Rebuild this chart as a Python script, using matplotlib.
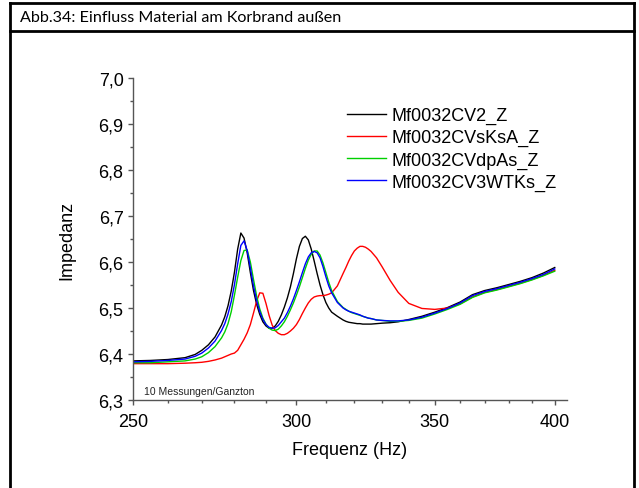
import matplotlib
matplotlib.use("Agg")
import matplotlib.pyplot as plt
from matplotlib.lines import Line2D
from matplotlib.ticker import FixedLocator, FixedFormatter, NullFormatter, MultipleLocator, FuncFormatter

# Frequency grid (Hz)
freq = [250, 255, 260, 265, 268, 270, 272, 274, 276,
        277, 278, 279, 280, 281, 282, 283, 284, 285, 286, 287, 288, 289, 290,
        291, 292, 293, 294, 295, 296, 297, 298, 299, 300, 301, 302, 303, 304,
        305, 306, 307, 308, 309, 310, 311,
        312, 314, 316, 317, 318, 319, 320, 321, 322, 323, 324, 325, 326, 328, 330,
        333, 336, 340, 345, 350, 355, 360, 365, 370, 375, 380, 385, 390, 395, 400]

z_cv2 = [6.385, 6.386, 6.388, 6.392, 6.399, 6.408, 6.420, 6.437, 6.463,
         6.481, 6.505, 6.537, 6.578, 6.628, 6.663, 6.652, 6.620, 6.577, 6.538, 6.508, 6.486, 6.470, 6.461,
         6.456, 6.456, 6.461, 6.471, 6.485, 6.502, 6.522, 6.546, 6.575, 6.607, 6.634, 6.651, 6.656, 6.648,
         6.628, 6.602, 6.575, 6.550, 6.529, 6.512, 6.500,
         6.491, 6.482, 6.474, 6.471, 6.469, 6.468, 6.467, 6.466, 6.466, 6.465, 6.465, 6.465, 6.465, 6.466, 6.467,
         6.468, 6.470, 6.475, 6.482, 6.491, 6.501, 6.513, 6.529, 6.538, 6.544, 6.551, 6.558, 6.566, 6.576, 6.588]

z_vsksa = [6.379, 6.379, 6.379, 6.380, 6.381, 6.382, 6.384, 6.387, 6.391,
           6.394, 6.397, 6.400, 6.402, 6.408, 6.420, 6.432, 6.446, 6.464, 6.489, 6.515, 6.533, 6.532, 6.510,
           6.484, 6.463, 6.451, 6.445, 6.442, 6.442, 6.445, 6.450, 6.456, 6.464, 6.475, 6.488, 6.500, 6.511,
           6.519, 6.524, 6.526, 6.527, 6.527, 6.528, 6.530,
           6.533, 6.548, 6.575, 6.588, 6.602, 6.614, 6.624, 6.630, 6.634, 6.634, 6.632, 6.628, 6.623, 6.609, 6.590,
           6.560, 6.534, 6.510, 6.499, 6.497, 6.500, 6.509, 6.524, 6.534, 6.540, 6.547, 6.554, 6.562, 6.571, 6.582]

z_dpas = [6.381, 6.381, 6.383, 6.385, 6.389, 6.394, 6.403, 6.416, 6.435,
          6.448, 6.466, 6.492, 6.528, 6.567, 6.603, 6.625, 6.626, 6.600, 6.562, 6.526, 6.498, 6.478, 6.465,
          6.456, 6.452, 6.451, 6.454, 6.461, 6.470, 6.482, 6.496, 6.511, 6.528, 6.546, 6.566, 6.586, 6.604,
          6.617, 6.624, 6.624, 6.615, 6.598, 6.577, 6.556,
          6.538, 6.514, 6.501, 6.497, 6.493, 6.490, 6.488, 6.486, 6.484, 6.482, 6.480, 6.478, 6.477, 6.474, 6.473,
          6.471, 6.471, 6.473, 6.478, 6.487, 6.497, 6.508, 6.523, 6.533, 6.539, 6.546, 6.553, 6.561, 6.570, 6.580]

z_3wtks = [6.383, 6.384, 6.386, 6.389, 6.395, 6.402, 6.413, 6.428, 6.451,
           6.466, 6.487, 6.514, 6.551, 6.596, 6.636, 6.646, 6.625, 6.587, 6.548, 6.516, 6.492, 6.475, 6.464,
           6.458, 6.456, 6.457, 6.462, 6.470, 6.478, 6.490, 6.504, 6.520, 6.538, 6.557, 6.577, 6.596, 6.611,
           6.620, 6.623, 6.620, 6.609, 6.590, 6.568, 6.548,
           6.533, 6.512, 6.500, 6.496, 6.493, 6.491, 6.489, 6.487, 6.485, 6.482, 6.480, 6.478, 6.477, 6.474, 6.473,
           6.472, 6.472, 6.474, 6.480, 6.489, 6.499, 6.511, 6.527, 6.536, 6.542, 6.549, 6.556, 6.564, 6.573, 6.585]

series_names = ["Mf0032CV2_Z", "Mf0032CVsKsA_Z", "Mf0032CVdpAs_Z", "Mf0032CV3WTKs_Z"]
series_values = [z_cv2, z_vsksa, z_dpas, z_3wtks]
series_colors = ["#000000", "#ff0000", "#00d000", "#0000ff"]

x_major = [250, 300, 350, 400]
x_minor = [260, 270, 280, 290, 310, 320, 330, 340, 360, 370, 380, 390]
x_labels = ["250", "300", "350", "400"]

title_text = "Abb.34: Einfluss Material am Korbrand außen"
note_text = "10 Messungen/Ganzton"

W, H = 639, 489
fig = plt.figure(figsize=(W / 100, H / 100), dpi=100)
plt.rcParams["font.family"] = ["Liberation Sans", "DejaVu Sans"]

ax_left, ax_right, ax_top, ax_bottom = 132.7, 567.0, 79.0, 401.0
ax = fig.add_axes([ax_left / W, 1 - ax_bottom / H, (ax_right - ax_left) / W, (ax_bottom - ax_top) / H])

for name, vals, col in zip(series_names, series_values, series_colors):
    ax.plot(freq, vals, color=col, lw=1.0, label=name)

ax.set_xscale("log")
ax.set_xlim(250, 405.5)
ax.set_ylim(6.3, 7.0)

ax.xaxis.set_major_locator(FixedLocator(x_major))
ax.xaxis.set_major_formatter(FixedFormatter(x_labels))
ax.xaxis.set_minor_locator(FixedLocator(x_minor))
ax.xaxis.set_minor_formatter(NullFormatter())
ax.yaxis.set_major_locator(MultipleLocator(0.1))
ax.yaxis.set_minor_locator(MultipleLocator(0.05))
ax.yaxis.set_major_formatter(FuncFormatter(lambda v, p: f"{v:.1f}".replace(".", ",")))

for s in ("top", "right"):
    ax.spines[s].set_visible(False)
for s in ("left", "bottom"):
    ax.spines[s].set_color("#555555")
    ax.spines[s].set_linewidth(1.0)

ax.tick_params(which="major", direction="out", length=3.6, width=1.0, color="#555555",
               labelsize=13, labelcolor="black", pad=3)
ax.tick_params(which="minor", direction="out", length=2.2, width=1.0, color="#555555")
ax.tick_params(axis="x", which="major", pad=6)

ax.set_xlabel("Frequenz (Hz)", fontsize=13, va="center")
ax.set_ylabel("Impedanz", fontsize=13, va="center")
ax.xaxis.set_label_coords(0.5, (ax_bottom - 451) / (ax_bottom - ax_top))
ax.yaxis.set_label_coords((67 - ax_left) / (ax_right - ax_left), 0.5)

ax.text(144 / W, 1 - 392 / H, note_text, transform=fig.transFigure,
        fontsize=7.5, va="center", ha="left", color="#222222")

leg = ax.legend(loc="upper left", bbox_to_anchor=(346.7 / W, 1 - 108 / H),
                bbox_transform=fig.transFigure, frameon=False, fontsize=13,
                handlelength=2.2, handletextpad=0.28, labelspacing=0.28,
                borderpad=0, borderaxespad=0)

# Frame with title row
frame_kw = dict(color="black", lw=2.0, transform=fig.transFigure, solid_capstyle="projecting")
xl, xr = 10 / W, 634 / W
yt, ysep = 1 - 4 / H, 1 - 32 / H
fig.add_artist(Line2D([xl, xr], [yt, yt], **frame_kw))
fig.add_artist(Line2D([xl, xr], [ysep, ysep], **frame_kw))
fig.add_artist(Line2D([xl, xl], [yt, -0.02], **frame_kw))
fig.add_artist(Line2D([xr, xr], [yt, -0.02], **frame_kw))

fig.text(20 / W, 1 - 18.5 / H, title_text, fontsize=11.6, family=["Lato", "DejaVu Sans"],
         va="center", ha="left")

fig.savefig("out.png", dpi=100)
